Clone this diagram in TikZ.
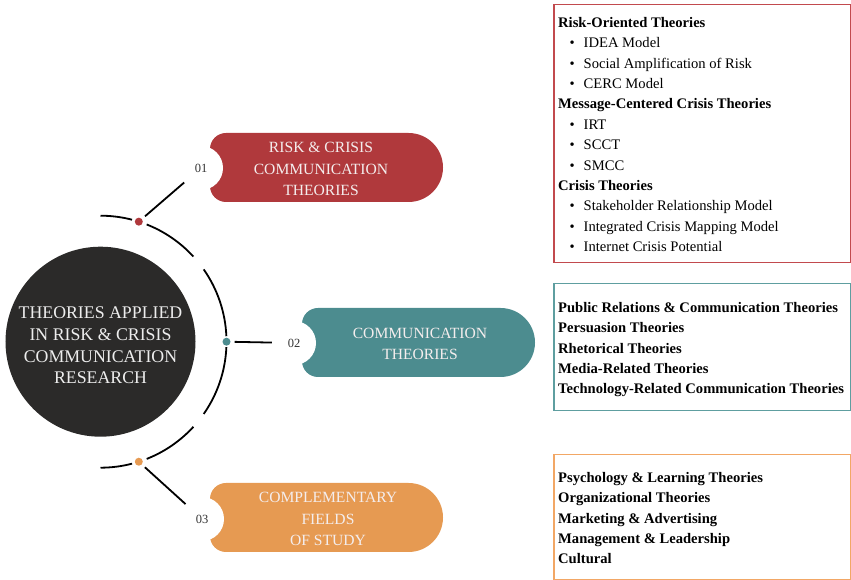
\documentclass[tikz,border=0pt]{standalone}
\usepackage{fontspec}
\setmainfont{Liberation Serif}
\usetikzlibrary{calc}
\definecolor{riskred}{HTML}{B0393C}
\definecolor{commteal}{HTML}{4C8C8F}
\definecolor{complorange}{HTML}{E69A52}
\definecolor{redframe}{HTML}{C24A4E}
\definecolor{tealframe}{HTML}{5E9EA0}
\definecolor{orangeframe}{HTML}{F2A765}
\definecolor{hubdark}{HTML}{2B2A29}
\definecolor{hubwhite}{HTML}{EDEDED}
\definecolor{pillwhite}{HTML}{F4EDED}
\definecolor{numgrey}{HTML}{333333}
\tikzset{
    hub/.style={circle, fill=hubdark, minimum size=190bp, inner sep=0pt, text=hubwhite, align=center, font=\fontsize{17.8bp}{21.7bp}\selectfont},
    knot/.style={circle, fill=#1, minimum size=8bp, inner sep=0pt},
    numdisc/.style={circle, fill=white, minimum size=44bp, inner sep=0pt, text=numgrey, font=\fontsize{12.5bp}{14bp}\selectfont},
    pilllabel/.style={align=center, text=pillwhite, inner sep=0pt, font=\fontsize{15.6bp}{21.5bp}\selectfont},
    listtext/.style={align=left, inner sep=0pt, anchor=north west, font=\fontsize{14.6bp}{20.4bp}\selectfont},
    listframe/.style={draw=#1, line width=1.5bp, anchor=north west, inner sep=0pt},
    ring/.style={line width=1.8bp},
    link/.style={line width=1.8bp, shorten <=4bp},
  }
\newcommand{\itm}[1]{\hspace*{11.5bp}\makebox[14bp][l]{\textbullet}#1}
\begin{document}
\begin{tikzpicture}[x=1bp, y=1bp]
          %cadre 851x580, origine en bas a gauche
          \useasboundingbox (0,0) rectangle (851,580);
          %centre
          \node[hub] (hub) at (100.5,238.3) {};
          \node[align=center, text=hubwhite, inner sep=0pt, font=\fontsize{17.8bp}{21.7bp}\selectfont] (hubtext) at (100.5,234.5) {THEORIES APPLIED\\IN RISK \& CRISIS\\COMMUNICATION\\RESEARCH};
          %anneau coupe
          \foreach \a/\b in {90/75.5, 68.5/42.5, 35/2.5, -2.5/-35, -42.5/-68.5, -75.5/-90}
              \draw[ring] ($(hub.center)+(\a:126)$) arc[start angle=\a, end angle=\b, radius=126];
          \node[knot=riskred] (knotA) at ($(hub.center)+(72.3:126)$) {};
          \node[knot=commteal] (knotB) at ($(hub.center)+(0:126)$) {};
          \node[knot=complorange] (knotC) at ($(hub.center)+(-72.3:126)$) {};
          %pilules
          \fill[riskred] (210,412.5) ++(16,34.5) -- ++(182.5,0) arc[start angle=90, end angle=-90, radius=34.5] -- ++(-182.5,0) arc[start angle=270, end angle=180, radius=16] -- ++(0,37) arc[start angle=180, end angle=90, radius=16] -- cycle;
          \fill[commteal] (302,237.5) ++(16,34.5) -- ++(182.5,0) arc[start angle=90, end angle=-90, radius=34.5] -- ++(-182.5,0) arc[start angle=270, end angle=180, radius=16] -- ++(0,37) arc[start angle=180, end angle=90, radius=16] -- cycle;
          \fill[complorange] (210,62.5) ++(16,34.5) -- ++(182.5,0) arc[start angle=90, end angle=-90, radius=34.5] -- ++(-182.5,0) arc[start angle=270, end angle=180, radius=16] -- ++(0,37) arc[start angle=180, end angle=90, radius=16] -- cycle;
          \node[pilllabel] (pillA) at (321,411) {RISK \& CRISIS\\COMMUNICATION\\THEORIES};
          \node[pilllabel] (pillB) at (420,236) {COMMUNICATION\\THEORIES};
          \node[pilllabel] (pillC) at (328,61) {COMPLEMENTARY\\FIELDS\\OF STUDY};
          \node[numdisc] (numA) at (201,412) {01};
          \node[numdisc] (numB) at (294,237) {02};
          \node[numdisc] (numC) at (202,61) {03};
          \draw[link] (knotA) -- (numA);
          \draw[link] (knotB) -- (numB);
          \draw[link] (knotC) -- (numC);
          %listes
          \node[listframe=redframe, minimum width=296.5bp, minimum height=258bp] (boxA) at (553,576) {};
          \node[listframe=tealframe, minimum width=296.5bp, minimum height=127bp] (boxB) at (553,297) {};
          \node[listframe=orangeframe, minimum width=296.5bp, minimum height=125bp] (boxC) at (553,126) {};
          \node[listtext] (listA) at (558,563) {\textbf{Risk-Oriented Theories}\\\itm{IDEA Model}\\\itm{Social Amplification of Risk}\\\itm{CERC Model}\\
              \textbf{Message-Centered Crisis Theories}\\\itm{IRT}\\\itm{SCCT}\\\itm{SMCC}\\
              \textbf{Crisis Theories}\\\itm{Stakeholder Relationship Model}\\\itm{Integrated Crisis Mapping Model}\\\itm{Internet Crisis Potential}};
          \node[listtext, font=\fontsize{14.6bp}{20.4bp}\selectfont\bfseries] (listB) at (558,278) {Public Relations \& Communication Theories\\Persuasion Theories\\Rhetorical Theories\\Media-Related Theories\\Technology-Related Communication Theories};
          \node[listtext, font=\fontsize{14.6bp}{20.4bp}\selectfont\bfseries] (listC) at (558,108) {Psychology \& Learning Theories\\Organizational Theories\\Marketing \& Advertising\\Management \& Leadership\\Cultural};
\end{tikzpicture}
\end{document}
